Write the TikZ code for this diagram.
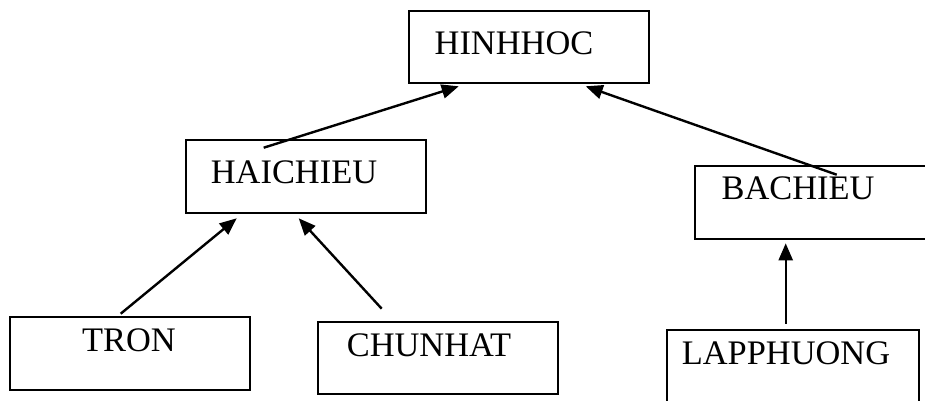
\documentclass[tikz,border=0pt]{standalone}
\usepackage{fontspec}
\setmainfont{Liberation Serif}
\usetikzlibrary{arrows.meta}

\begin{document}
\begin{tikzpicture}[x=1pt,y=-1pt,
    box/.style={draw, line width=2.6pt, inner sep=0pt, minimum width=240pt, minimum height=73pt},
    word/.style={inner sep=0pt, font=\fontsize{34.4}{40}\selectfont},
    link/.style={line width=2.4pt, -{Triangle[length=17pt,width=14pt]}}]
  \useasboundingbox (0,0) rectangle (925,401);
  \clip (0,0) rectangle (925,401);
  % the class boxes
  \node[box, minimum height=72pt] (hinhhoc) at (529,47) {};
  \node[box] (haichieu) at (306,176.5) {};
  \node[box] (bachieu) at (815,202.5) {};
  \node[box] (tron) at (130,353.5) {};
  \node[box, minimum height=72pt] (chunhat) at (438,358) {};
  \node[box, minimum width=252pt, minimum height=80pt] (lapphuong) at (793,370) {};
  % names, set near the top of each box
  \node[word] (hinhhoc-t) at (514,43.5) {HINHHOC};
  \node[word] (haichieu-t) at (294,172) {HAICHIEU};
  \node[word] (bachieu-t) at (798,188.5) {BACHIEU};
  \node[word] (tron-t) at (129,340.5) {TRON};
  \node[word] (chunhat-t) at (429,345) {CHUNHAT};
  \node[word] (lapphuong-t) at (786,353.5) {LAPPHUONG};
  % inheritance arrows
  \draw[link] ([shift={(79,9)}]haichieu.north west) -- ([shift={(51,2)}]hinhhoc.south west);
  \draw[link] ([shift={(143,10)}]bachieu.north west) -- ([shift={(178,2)}]hinhhoc.south west);
  \draw[link] ([shift={(112,-2)}]tron.north west) -- ([shift={(52,4)}]haichieu.south west);
  \draw[link] ([shift={(65,-12)}]chunhat.north west) -- ([shift={(114,4)}]haichieu.south west);
  \draw[link] ([shift={(120,-5)}]lapphuong.north west) -- ([shift={(92,3)}]bachieu.south west);
\end{tikzpicture}
\end{document}
